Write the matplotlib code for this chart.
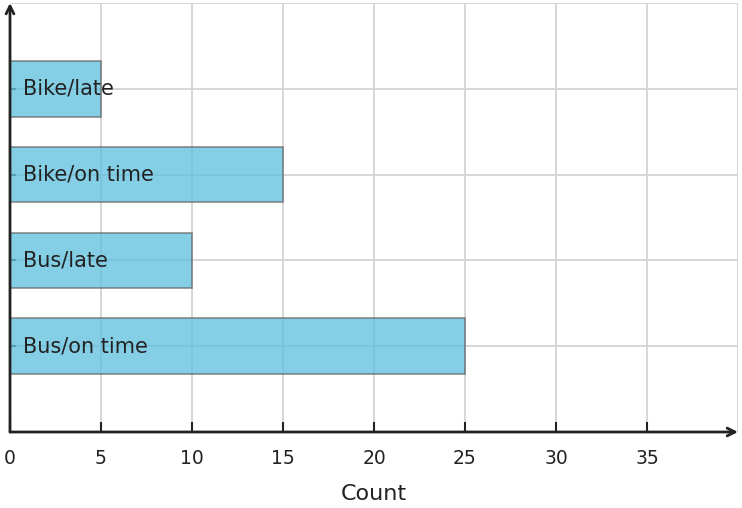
import matplotlib
matplotlib.use("Agg")
import matplotlib.pyplot as plt

categories = ["Bus/on time", "Bus/late", "Bike/on time", "Bike/late"]
counts = [25, 10, 15, 5]
xticks = [0, 5, 10, 15, 20, 25, 30, 35]

plt.rcParams['font.family'] = ['DejaVu Sans']

fig = plt.figure(figsize=(7.42, 5.08), dpi=100)
ax = fig.add_axes([10 / 742, 76 / 508, 728 / 742, 429 / 508])

ax.set_xlim(0, 40)
ax.set_ylim(-1, 4)

# grid lines, drawn by hand so the edges at 40 and 4 show too
for gx in range(5, 41, 5):
    ax.axvline(gx, color="#d3d3d3", linewidth=1.3, zorder=0)
for gy in range(0, 5):
    ax.axhline(gy, color="#d3d3d3", linewidth=1.3, zorder=0)

ypos = list(range(len(categories)))
ax.barh(ypos, counts, height=0.65, color="#5bc0de", alpha=0.75,
        edgecolor="#666666", linewidth=1.2, zorder=2)
for y, name in zip(ypos, categories):
    ax.text(0.7, y, name, va="center", ha="left", fontsize=15,
            color="#222222", zorder=3)

ax.set_xticks(xticks)
ax.set_yticks(ypos)
ax.set_yticklabels([])
ax.tick_params(axis="x", direction="in", length=7, width=1.5,
               color="#222222", labelsize=13.5, labelcolor="#222222", pad=12)
ax.tick_params(axis="y", direction="in", length=4, width=1.2,
               color="#222222")
ax.set_axisbelow(True)

for s in ax.spines.values():
    s.set_visible(False)

ax.annotate("", xy=(1.0, 0), xytext=(0, 0), xycoords="axes fraction",
            arrowprops=dict(arrowstyle="->", color="#222222", lw=2,
                            mutation_scale=14, shrinkA=0, shrinkB=0),
            annotation_clip=False)
ax.annotate("", xy=(0, 1.0), xytext=(0, 0), xycoords="axes fraction",
            arrowprops=dict(arrowstyle="->", color="#222222", lw=2,
                            mutation_scale=14, shrinkA=0, shrinkB=0),
            annotation_clip=False)

ax.set_xlabel("Count", fontsize=16, color="#222222", labelpad=12)

fig.savefig("out.png", dpi=100)
